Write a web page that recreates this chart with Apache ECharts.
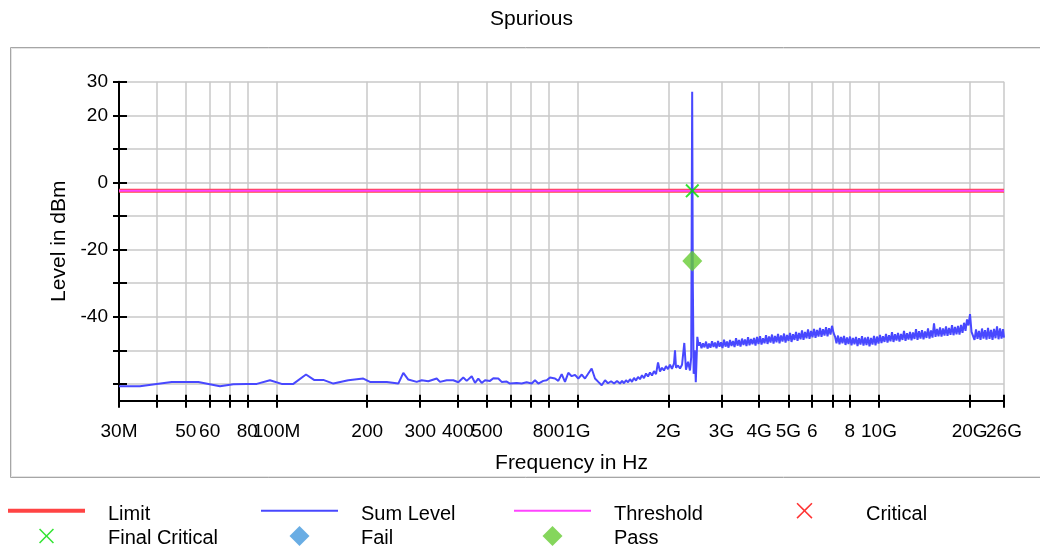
<!DOCTYPE html>
<html>
<head>
<meta charset="utf-8">
<title>Spurious</title>
<script src="https://cdn.jsdelivr.net/npm/echarts@6/dist/echarts.min.js"></script>
<style>
  html, body { margin: 0; padding: 0; background: #ffffff; }
  #chart { width: 1040px; height: 550px; }
</style>
</head>
<body>
<div id="chart"></div>
<script>
// ---- Frequency axis ticks (MHz) and their labels; '' = tick without a label
const tickFreqMHz = [30, 40, 50, 60, 70, 80, 100, 200, 300, 400, 500, 600, 700, 800,
                     1000, 2000, 3000, 4000, 5000, 6000, 7000, 8000, 10000, 20000, 26000];
const tickLabels = ['30M', '', '50', '60', '', '80', '100M', '200', '300', '400', '500', '', '', '800',
                    '1G', '2G', '3G', '4G', '5G', '6', '', '8', '10G', '20G', '26G'];

// ---- Level axis ticks (dBm)
const levelTicks = [-60, -50, -40, -30, -20, -10, 0, 10, 20, 30];
const levelLabels = [30, 20, 0, -20, -40];

// ---- Measured sum level: [frequency in MHz, level in dBm]
const sumLevel = [
  [30, -60.7], [35.2, -60.7], [40.0, -60.0], [44.9, -59.4], [55.0, -59.4], [64.9, -60.7],
  [71.9, -60.1], [79.6, -60.0], [86.0, -60.0], [95.1, -58.9], [104.0, -60.0], [113.7, -60.0],
  [125.3, -57.2], [133.2, -58.8], [143.0, -58.8], [154.4, -59.9], [173.1, -58.9], [194.1, -58.4],
  [204.3, -59.4], [232.2, -59.4], [253.7, -59.9], [263.6, -56.7], [273.8, -58.7], [292.0, -59.4],
  [303.4, -58.9], [319.1, -59.2], [340.2, -58.4], [348.9, -59.4], [367.2, -58.9], [386.2, -58.9],
  [401.3, -59.5], [416.9, -58.1], [427.9, -59.1], [444.6, -57.7], [456.0, -59.7], [467.6, -58.4],
  [479.9, -59.7], [492.2, -58.9], [511.3, -59.1], [524.4, -58.3], [544.8, -58.4], [559.1, -59.4],
  [580.9, -59.3], [595.7, -59.9], [627.0, -59.7], [651.5, -59.9], [676.9, -59.5], [703.3, -59.9],
  [721.3, -58.9], [739.7, -59.9], [768.5, -59.1], [788.7, -58.9], [808.9, -58.1], [840.4, -58.4],
  [861.8, -59.1], [884.5, -57.1], [907.1, -59.4], [930.3, -56.7], [954.8, -57.7], [979.2, -57.3],
  [1004, -58.4], [1031, -57.2], [1057, -58.4], [1084, -56.9], [1112, -55.4], [1141, -58.4],
  [1170, -59.4], [1201, -60.4], [1232, -58.9], [1260, -59.8], [1290, -59.2], [1320, -59.9],
  [1350, -59.1], [1381, -59.9], [1403, -59.1], [1424, -59.8], [1446, -58.9], [1469, -59.5],
  [1491, -58.6], [1514, -59.4], [1537, -58.2], [1561, -59.0], [1585, -57.9], [1609, -58.6],
  [1634, -57.4], [1659, -58.3], [1685, -56.9], [1711, -57.8], [1737, -56.6], [1764, -57.5],
  [1791, -56.2], [1819, -57.1], [1847, -53.6], [1875, -56.3], [1904, -55.2], [1933, -56.0],
  [1963, -54.7], [1993, -55.6], [2024, -54.3], [2055, -55.5], [2087, -53.9], [2103, -50.0],
  [2119, -55.2], [2152, -54.5], [2185, -55.4], [2219, -54.3], [2258, -47.8], [2287, -55.8],
  [2323, -53.4], [2358, -56.0], [2380, -52.0], [2398, 27.0], [2410, -30.0], [2425, -57.0],
  [2445, -50.0], [2465, -59.5], [2494, -46.0], [2520, -48.6],
  [2546, -47.6], [2575, -49.4], [2605, -47.9], [2635, -49.1], [2666, -47.4], [2697, -49.5],
  [2727, -48.0], [2758, -49.2], [2791, -47.3], [2823, -49.0], [2855, -47.7], [2888, -49.4],
  [2922, -47.2], [2956, -48.9], [2989, -47.6], [3023, -49.3], [3059, -46.8], [3094, -48.9],
  [3130, -47.4], [3166, -49.2], [3202, -46.9], [3239, -48.7], [3277, -47.2], [3315, -49.0],
  [3353, -46.4], [3392, -48.6], [3430, -46.9], [3470, -48.9], [3510, -46.5], [3550, -48.4],
  [3591, -46.8], [3632, -48.7], [3675, -46.1], [3717, -48.5], [3760, -46.6], [3803, -48.2],
  [3847, -46.3], [3891, -48.6], [3936, -46.0], [3981, -48.1], [4028, -45.8], [4074, -48.3],
  [4121, -46.4], [4169, -47.9], [4217, -45.5], [4266, -48.1], [4315, -45.9], [4365, -47.7],
  [4415, -45.3], [4466, -48.0], [4517, -45.7], [4569, -47.6], [4622, -45.1], [4675, -47.9],
  [4729, -45.6], [4784, -47.4], [4839, -45.0], [4895, -47.7], [4951, -45.4], [5008, -47.2],
  [5066, -44.8], [5124, -47.5], [5183, -45.2], [5243, -46.9], [5304, -44.5], [5365, -47.2],
  [5427, -44.8], [5490, -46.7], [5552, -44.1], [5616, -46.9], [5681, -44.5], [5747, -46.4],
  [5813, -43.8], [5880, -46.6], [5948, -44.2], [6017, -46.1], [6086, -43.6], [6156, -46.3],
  [6227, -43.9], [6299, -45.9], [6371, -43.3], [6444, -46.0], [6519, -43.7], [6594, -45.6],
  [6670, -43.1], [6747, -45.8], [6825, -43.4], [6904, -45.3], [6983, -42.7], [7064, -44.8],
  [7145, -45.9], [7227, -47.9], [7311, -45.6], [7395, -48.2], [7480, -46.0], [7566, -47.9],
  [7654, -45.7], [7742, -48.4], [7831, -46.2], [7921, -48.1], [8013, -45.9], [8105, -48.5],
  [8198, -46.3], [8293, -48.2], [8389, -46.0], [8486, -48.7], [8583, -46.4], [8682, -48.3],
  [8782, -45.8], [8883, -48.6], [8986, -46.2], [9090, -48.4], [9194, -46.0], [9300, -48.8],
  [9408, -46.3], [9516, -48.3], [9626, -45.7], [9737, -48.5], [9849, -45.9], [9963, -48.0],
  [10077, -45.4], [10193, -47.8], [10311, -45.8], [10430, -47.5], [10550, -45.1], [10672, -47.7],
  [10795, -45.5], [10919, -47.3], [11045, -44.6], [11172, -47.5], [11302, -45.2], [11432, -47.1],
  [11564, -44.8], [11697, -47.4], [11832, -45.1], [11968, -46.9], [12107, -44.2], [12247, -47.2],
  [12388, -44.9], [12531, -46.8], [12675, -44.5], [12821, -47.0], [12969, -44.7], [13119, -46.6],
  [13270, -43.7], [13423, -46.9], [13578, -44.3], [13735, -46.5], [13893, -44.0], [14053, -46.7],
  [14215, -44.4], [14379, -46.3], [14545, -43.5], [14713, -46.5], [14882, -44.1], [15054, -46.2],
  [15227, -42.0], [15403, -46.0], [15581, -43.6], [15761, -45.8], [15942, -43.2], [16126, -45.9],
  [16312, -43.5], [16500, -45.6], [16690, -42.9], [16882, -45.7], [17078, -43.3], [17275, -45.4],
  [17474, -42.5], [17675, -45.5], [17879, -43.0], [18085, -45.2], [18294, -42.7], [18505, -45.3],
  [18718, -42.4], [18934, -44.8], [19153, -41.8], [19374, -44.2], [19597, -40.8], [19823, -42.6],
  [20052, -39.2], [20283, -44.5], [20517, -44.2], [20754, -46.9], [20993, -43.8], [21235, -46.6],
  [21480, -44.2], [21728, -46.9], [21978, -43.5], [22231, -46.5], [22488, -44.0], [22747, -46.8],
  [23010, -43.3], [23275, -46.6], [23544, -43.9], [23815, -46.9], [24090, -43.6], [24368, -46.4],
  [24649, -42.9], [24933, -46.7], [25221, -43.5], [25512, -46.5], [25806, -43.7], [26000, -46.2]
];

// ---- Limit and threshold (dBm), constant over the band
const limitLine = [[30, -2.5], [26000, -2.5]];
const thresholdLine = [[30, -2.5], [26000, -2.5]];

// ---- Evaluated peaks: [frequency in MHz, level in dBm]
const criticalPoints = [];
const finalCriticalPoints = [[2400, -2.5]];
const failPoints = [];
const passPoints = [[2400, -23.4]];

// ---------------------------------------------------------------------------
const lg = Math.log10;
const toXY = arr => arr.map(p => [lg(p[0]), p[1]]);
const keyOf = v => v.toFixed(5);
const labelMap = {};
tickFreqMHz.forEach((f, i) => { labelMap[keyOf(lg(f))] = tickLabels[i]; });
const xTickVals = tickFreqMHz.map(lg);
const xLabelVals = tickFreqMHz.filter((f, i) => tickLabels[i] !== '').map(lg);
// the end label sits on the companion axis so the neighbouring "20G" is not dropped
const xLabelMain = xLabelVals.slice(0, -1);
const xLabelEnd = xLabelVals.slice(-1);

const FONT = "'Liberation Sans', Arial, sans-serif";

// marker shape used on the plot
const crossMark = 'path://M0,1.6L1.6,0L8,6.4L14.4,0L16,1.6L9.6,8L16,14.4L14.4,16L8,9.6L1.6,16L0,14.4L6.4,8Z';

// legend icons, each laid out in a 77 x 24 box (upper row sits slightly higher than its text)
const iconLimit = 'path://M0,0M77,24M0,6.7H77V10.7H0Z';
const iconThin = 'path://M0,0M77,24M0,7.7H77V9.7H0Z';
const iconCrossTop = 'path://M0,0M77,24M30.5,1.8L31.6,0.7L38.5,7.6L45.4,0.7L46.5,1.8L39.6,8.7L46.5,15.6L45.4,16.7L38.5,9.8L31.6,16.7L30.5,15.6L37.4,8.7Z';
const iconCross = 'path://M0,0M77,24M31,3.6L32.1,2.5L38.5,8.9L44.9,2.5L46,3.6L39.6,10L46,16.4L44.9,17.5L38.5,11.1L32.1,17.5L31,16.4L37.4,10Z';
const iconDiamond = 'path://M0,0M77,24M38.5,0L48.5,10L38.5,20L28.5,10Z';

const COLORS = {
  limit: '#ff4444', sum: '#4848ff', threshold: '#ff44ff',
  critical: '#ff0000', finalCritical: '#00dd00', fail: '#4499dd', pass: '#66cc33'
};

const xMin = lg(tickFreqMHz[0]);
const xMax = lg(tickFreqMHz[tickFreqMHz.length - 1]);
const yMin = -65, yMax = 30;

function legendItem(name, icon, left, top) {
  return {
    data: [{ name: name, icon: icon }],
    left: left, top: top,
    itemWidth: 77, itemHeight: 24, symbolKeepAspect: true,
    padding: 0, selectedMode: false,
    textStyle: { fontSize: 20, fontFamily: FONT, color: '#000', padding: [0, 0, 0, 18] }
  };
}

const tickLabelStyle = {
  fontSize: 19, fontFamily: FONT, color: '#000', margin: 22,
  hideOverlap: false, showMinLabel: true, showMaxLabel: true,
  formatter: v => labelMap[keyOf(v)] || ''
};

const chart = echarts.init(document.getElementById('chart'), null, { renderer: 'canvas' });

chart.setOption({
  animation: false,
  backgroundColor: '#ffffff',
  title: {
    text: 'Spurious', left: 490, top: 9, padding: 0,
    textStyle: { fontSize: 21, fontWeight: 'normal', fontFamily: FONT, color: '#000' }
  },
  graphic: [
    { type: 'rect', silent: true, z: -10,
      shape: { x: 10.5, y: 47.5, width: 1040, height: 430 },
      style: { fill: 'none', stroke: '#a6a6a6', lineWidth: 1 } },
    { type: 'rect', silent: true, z: -10,
      shape: { x: 11.5, y: 48.5, width: 1040, height: 428 },
      style: { fill: 'none', stroke: '#e4e4e4', lineWidth: 1 } }
  ],
  grid: { left: 119, top: 81.7, right: 36, bottom: 149.3, outerBoundsMode: 'none', containLabel: false },
  xAxis: [
    {
      type: 'value', min: xMin, max: xMax, position: 'bottom',
      name: 'Frequency in Hz', nameLocation: 'middle', nameGap: 52,
      nameTextStyle: { fontSize: 21, fontFamily: FONT, color: '#000', padding: [0, 0, 0, 20] },
      axisLine: { show: true, onZero: false, lineStyle: { color: '#000', width: 2 } },
      axisTick: { show: true, inside: false, length: 7, customValues: xTickVals,
                  lineStyle: { color: '#000', width: 2 } },
      axisLabel: Object.assign({ show: true, customValues: xLabelMain }, tickLabelStyle),
      splitLine: { show: true, lineStyle: { color: '#c8c8c8', width: 1.5 } }
    },
    {
      type: 'value', min: xMin, max: xMax, position: 'bottom',
      axisLine: { show: false, onZero: false },
      axisTick: { show: true, inside: true, length: 6, customValues: xTickVals,
                  lineStyle: { color: '#000', width: 2 } },
      axisLabel: Object.assign({ show: true, customValues: xLabelEnd }, tickLabelStyle),
      splitLine: { show: false }
    }
  ],
  yAxis: [
    {
      type: 'value', min: yMin, max: yMax, position: 'left',
      name: 'Level in dBm', nameLocation: 'middle', nameGap: 49, nameRotate: 90,
      nameTextStyle: { fontSize: 21, fontFamily: FONT, color: '#000' },
      axisLine: { show: true, onZero: false, lineStyle: { color: '#000', width: 2 } },
      axisTick: { show: true, inside: false, length: 6, customValues: levelTicks,
                  lineStyle: { color: '#000', width: 2 } },
      axisLabel: { show: true, customValues: levelLabels, margin: 11,
                   showMinLabel: true, showMaxLabel: true,
                   fontSize: 19, fontFamily: FONT, color: '#000' },
      splitLine: { show: true, lineStyle: { color: '#c8c8c8', width: 1.5 } }
    },
    {
      type: 'value', min: yMin, max: yMax, position: 'left',
      axisLine: { show: false, onZero: false },
      axisTick: { show: true, inside: true, length: 8, customValues: levelTicks,
                  lineStyle: { color: '#000', width: 2 } },
      axisLabel: { show: false },
      splitLine: { show: false }
    }
  ],
  legend: [
    legendItem('Limit', iconLimit, 8, 502),
    legendItem('Sum Level', iconThin, 261, 502),
    legendItem('Threshold', iconThin, 514, 502),
    legendItem('Critical', iconCrossTop, 766, 502),
    legendItem('Final Critical', iconCross, 8, 526),
    legendItem('Fail', iconDiamond, 261, 526),
    legendItem('Pass', iconDiamond, 514, 526)
  ],
  series: [
    { name: 'Limit', type: 'line', data: toXY(limitLine), symbol: 'none', z: 2,
      color: COLORS.limit, lineStyle: { color: COLORS.limit, width: 4 } },
    { name: 'Threshold', type: 'line', data: toXY(thresholdLine), symbol: 'none', z: 3,
      color: COLORS.threshold, lineStyle: { color: COLORS.threshold, width: 2 } },
    { name: 'Sum Level', type: 'line', data: toXY(sumLevel), symbol: 'none', z: 4,
      color: COLORS.sum, lineStyle: { color: COLORS.sum, width: 2 }, sampling: null },
    { name: 'Critical', type: 'scatter', data: toXY(criticalPoints), symbol: crossMark, symbolSize: 14, z: 5,
      color: COLORS.critical, itemStyle: { color: COLORS.critical } },
    { name: 'Final Critical', type: 'scatter', data: toXY(finalCriticalPoints), symbol: crossMark, symbolSize: 14, z: 6,
      color: COLORS.finalCritical, itemStyle: { color: COLORS.finalCritical } },
    { name: 'Fail', type: 'scatter', data: toXY(failPoints), symbol: 'diamond', symbolSize: [20, 21], z: 5,
      color: COLORS.fail, itemStyle: { color: COLORS.fail } },
    { name: 'Pass', type: 'scatter', data: toXY(passPoints), symbol: 'diamond', symbolSize: [20, 21], z: 5,
      color: COLORS.pass, itemStyle: { color: COLORS.pass } }
  ]
});
</script>
</body>
</html>
